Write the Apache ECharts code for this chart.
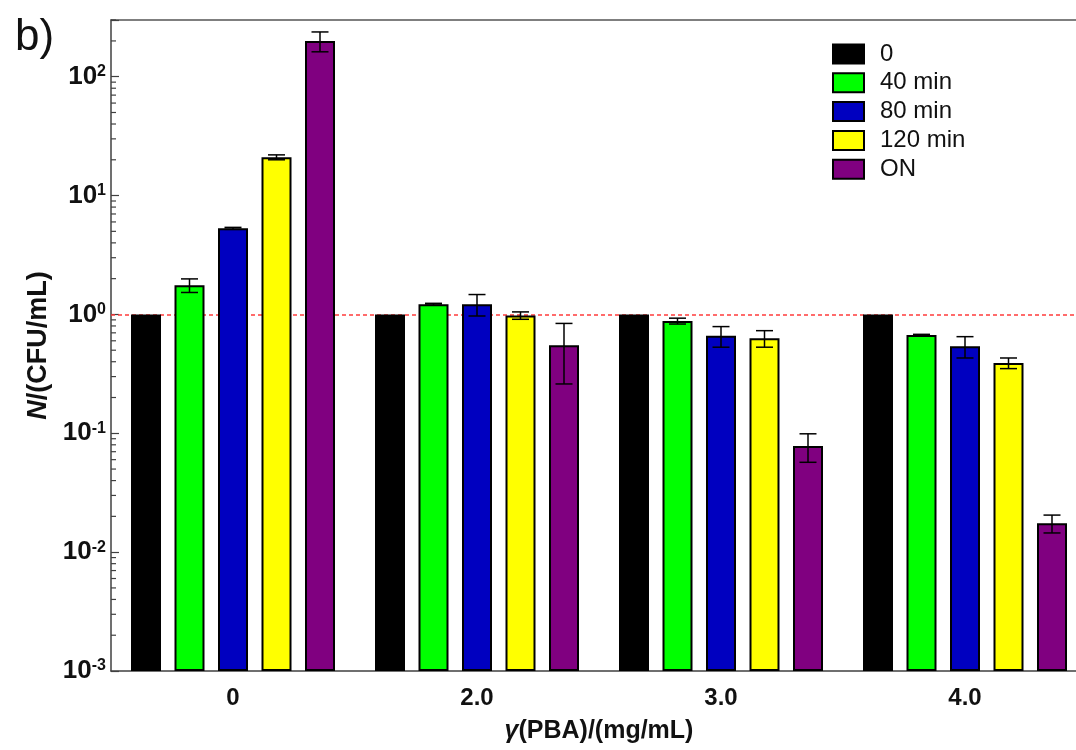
<!DOCTYPE html>
<html>
<head>
<meta charset="utf-8">
<script src="https://cdn.jsdelivr.net/npm/echarts@6/dist/echarts.min.js"></script>
<style>html,body{margin:0;padding:0;background:#fff;}#c{width:1076px;height:750px;}</style>
</head>
<body>
<div id="c"></div>
<script>
// ---- data ----
const categories = ['0', '2.0', '3.0', '4.0'];
const seriesNames = ['0', '40 min', '80 min', '120 min', 'ON'];
const vals0   = [1, 1, 1, 1];
const err0    = [0, 0, 0, 0];
const vals40  = [1.76, 1.22, 0.88, 0.67];
const err40   = [0.23, 0.02, 0.05, 0.01];
const vals80  = [5.3, 1.22, 0.66, 0.54];
const err80   = [0.1, 0.25, 0.13, 0.11];
const vals120 = [21, 0.98, 0.63, 0.39];
const err120  = [1.0, 0.07, 0.1, 0.04];
const valsON  = [200, 0.55, 0.078, 0.0175];
const errON   = [38, 0.29, 0.021, 0.003];
const yMin = 0.001, yMax = 300;
const refLine = 1;

const colors = ['#000000', '#00ff00', '#0000c0', '#ffff00', '#800080'];
const allVals = [vals0, vals40, vals80, vals120, valsON];
const allErrs = [err0, err40, err80, err120, errON];

const FONT = '"Liberation Sans", Arial, sans-serif';
const BAR_W = 30, BAR_GAP = 0.45;
const STRIDE = BAR_W * (1 + BAR_GAP);

// minor tick positions on the log axis (2..9 x 10^k)
const minorTicks = [];
for (let k = -3; k <= 2; k++) {
  for (let m = 2; m <= 9; m++) {
    const v = m * Math.pow(10, k);
    if (v <= yMax + 1e-9) minorTicks.push([0, v]);
  }
}

const series = [];
seriesNames.forEach((name, i) => {
  const s = {
    name: name,
    type: 'bar',
    barWidth: BAR_W,
    barGap: (BAR_GAP * 100) + '%',
    itemStyle: { color: colors[i], borderColor: '#000', borderWidth: 2 },
    data: allVals[i],
    z: 2
  };
  if (i === 0) {
    s.markLine = {
      silent: true, symbol: 'none', z: 1,
      label: { show: false },
      lineStyle: { color: '#ff3b3b', type: [4, 3], width: 1.5 },
      data: [{ yAxis: refLine }]
    };
  }
  series.push(s);
});

seriesNames.forEach((name, i) => {
  series.push({
    name: 'err' + i,
    type: 'custom',
    z: 5,
    encode: { x: 0, y: 1 },
    data: allVals[i].map((v, j) => [j, v, allErrs[i][j]]),
    renderItem: function (params, api) {
      const idx = api.value(0), v = api.value(1), e = api.value(2);
      if (!e) return;
      const off = (i - 2) * STRIDE;
      const x = api.coord([idx, v])[0] + off;
      const yt = api.coord([idx, v + e])[1];
      const yb = api.coord([idx, Math.max(v - e, yMin)])[1];
      const cw = 8.5;
      const st = { stroke: '#000', lineWidth: 1.5 };
      return {
        type: 'group',
        children: [
          { type: 'line', shape: { x1: x, y1: yt, x2: x, y2: yb }, style: st },
          { type: 'line', shape: { x1: x - cw, y1: yt, x2: x + cw, y2: yt }, style: st },
          { type: 'line', shape: { x1: x - cw, y1: yb, x2: x + cw, y2: yb }, style: st }
        ]
      };
    }
  });
});

series.push({
  name: 'minorTicks',
  type: 'custom',
  z: 6,
  silent: true,
  encode: { x: 0, y: 1 },
  data: minorTicks,
  renderItem: function (params, api) {
    const p = api.coord([0, api.value(1)]);
    const left = p[0] - api.size([1, 0])[0] / 2;
    return { type: 'line', shape: { x1: left, y1: p[1], x2: left + 5, y2: p[1] },
             style: { stroke: '#404040', lineWidth: 1.2 } };
  }
});

const chart = echarts.init(document.getElementById('c'), null, { renderer: 'canvas' });
chart.setOption({
  animation: false,
  backgroundColor: '#fff',
  textStyle: { fontFamily: FONT },
  grid: { left: 111, top: 20, width: 976, bottom: 79, containLabel: false, outerBoundsMode: 'none' },
  legend: {
    data: seriesNames,
    orient: 'vertical',
    left: 827, top: 37,
    icon: 'rect',
    itemWidth: 31, itemHeight: 19, itemGap: 4.8,
    textStyle: { fontSize: 24, color: '#111', fontFamily: FONT, padding: [0, 0, 0, 11] }
  },
  graphic: [{
    type: 'text', left: 15, top: 16,
    style: { text: 'b)', font: '44px ' + FONT, fill: '#111' }
  }],
  xAxis: [{
    type: 'category',
    data: categories,
    name: '{i|γ}{n|(PBA)/(mg/mL)}',
    nameLocation: 'middle',
    nameGap: 48,
    nameTextStyle: {
      rich: {
        i: { fontSize: 25, fontWeight: 'bold', fontStyle: 'italic', fontFamily: FONT, color: '#111' },
        n: { fontSize: 25, fontWeight: 'bold', fontFamily: FONT, color: '#111' }
      }
    },
    axisLine: { lineStyle: { color: '#404040', width: 1.5 } },
    axisTick: { alignWithLabel: true, length: 7, lineStyle: { color: '#404040', width: 1.2 } },
    axisLabel: { fontSize: 24, fontWeight: 'bold', color: '#111', margin: 15, fontFamily: FONT },
    splitLine: { show: false }
  }, {
    type: 'category',
    data: categories,
    position: 'top',
    axisLine: { lineStyle: { color: '#555', width: 1.5 } },
    axisTick: { show: false },
    axisLabel: { show: false },
    splitLine: { show: false }
  }],
  yAxis: {
    type: 'log',
    logBase: 10,
    min: yMin,
    max: yMax,
    startValue: yMin,
    name: '{i|N}{n|/(CFU/mL)}',
    nameLocation: 'middle',
    nameGap: 47,
    nameTextStyle: {
      rich: {
        i: { fontSize: 27, fontWeight: 'bold', fontStyle: 'italic', fontFamily: FONT, color: '#111' },
        n: { fontSize: 27, fontWeight: 'bold', fontFamily: FONT, color: '#111' }
      }
    },
    axisLine: { show: true, lineStyle: { color: '#404040', width: 1.5 } },
    axisTick: { show: true, inside: true, length: 8, lineStyle: { color: '#404040', width: 1.2 } },
    axisLabel: {
      margin: 5,
      formatter: function (v) {
        const e = Math.log10(v), r = Math.round(e);
        if (Math.abs(e - r) > 1e-6) return '';
        return '{b|10}{s|' + r + '}';
      },
      rich: {
        b: { fontSize: 26, fontWeight: 'bold', fontFamily: FONT, color: '#111', lineHeight: 26 },
        s: { fontSize: 16, fontWeight: 'bold', fontFamily: FONT, color: '#111', verticalAlign: 'top', lineHeight: 15 }
      }
    },
    splitLine: { show: false }
  },
  series: series
});
</script>
</body>
</html>
